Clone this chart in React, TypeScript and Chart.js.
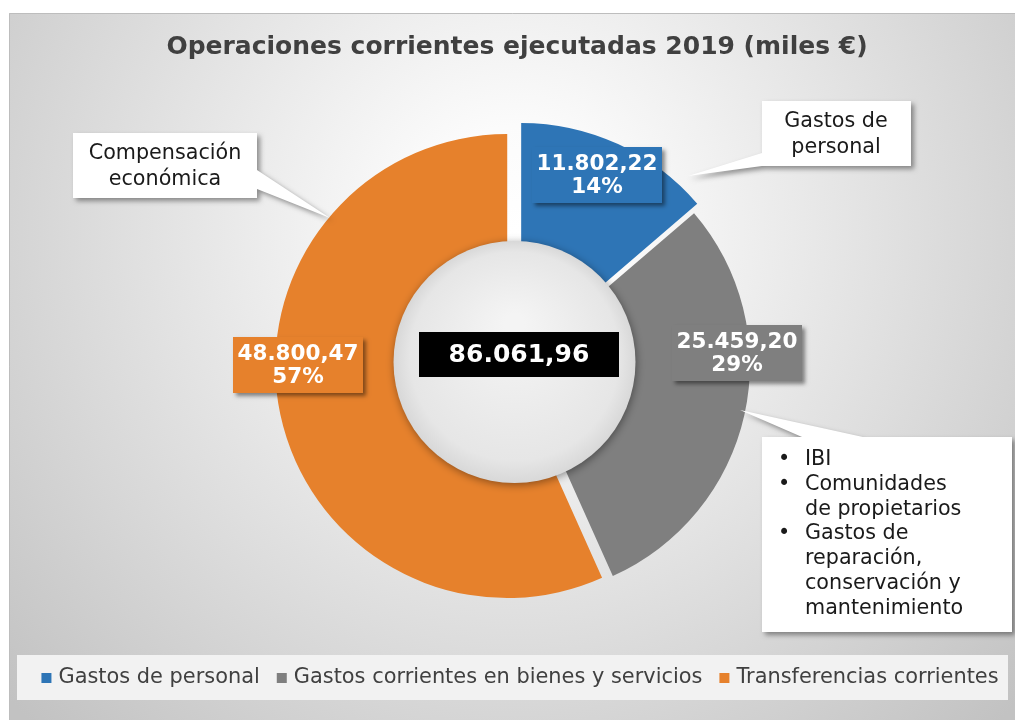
import React, { useEffect, useRef } from 'react';
import { Chart, registerables } from 'chart.js';

Chart.register(...registerables);

// ---- data ----
const categories = ['Gastos de personal', 'Gastos corrientes en bienes y servicios', 'Transferencias corrientes'];
const values = [11802.22, 25459.2, 48800.47];
const percentLabels = ['14%', '29%', '57%'];
const totalLabel = '86.061,96';
const colors = ['#2E75B6', '#7F7F7F', '#E6812C'];
const titleText = 'Operaciones corrientes ejecutadas 2019 (miles €)';
const calloutPersonal = ['Gastos de', 'personal'];
const calloutTransfer = ['Compensación', 'económica'];
const calloutBienes = [['IBI'], ['Comunidades', 'de propietarios'], ['Gastos de', 'reparación,', 'conservación y', 'mantenimiento']];

// ---- layout (not data) ----
const explode = [10, 1, 10];
const labelOffsets = [
  [80, -189],
  [220, -11],
  [-219, 1],
];
const FONT = '"DejaVu Sans", Verdana, sans-serif';

function fmt(v: number): string {
  const [i, d] = v.toFixed(2).split('.');
  return i.replace(/\B(?=(\d{3})+(?!\d))/g, '.') + ',' + d;
}

function shadowOn(ctx: CanvasRenderingContext2D, a = 0.4, blur = 5, ox = 3, oy = 3) {
  ctx.shadowColor = `rgba(0,0,0,${a})`;
  ctx.shadowBlur = blur;
  ctx.shadowOffsetX = ox;
  ctx.shadowOffsetY = oy;
}
function shadowOff(ctx: CanvasRenderingContext2D) {
  ctx.shadowColor = 'rgba(0,0,0,0)';
  ctx.shadowBlur = 0;
  ctx.shadowOffsetX = 0;
  ctx.shadowOffsetY = 0;
}

function poly(ctx: CanvasRenderingContext2D, pts: number[][]) {
  ctx.beginPath();
  pts.forEach((p, i) => (i === 0 ? ctx.moveTo(p[0], p[1]) : ctx.lineTo(p[0], p[1])));
  ctx.closePath();
}

const bgPlugin = {
  id: 'bg',
  beforeDraw(chart: any) {
    const ctx: CanvasRenderingContext2D = chart.ctx;
    const W = chart.width;
    const H = chart.height;
    ctx.save();
    ctx.fillStyle = '#ffffff';
    ctx.fillRect(0, 0, W, H);
    const g = ctx.createRadialGradient(515, 230, 0, 515, 230, 690);
    g.addColorStop(0, '#ffffff');
    g.addColorStop(0.15, '#fbfbfb');
    g.addColorStop(1, '#c2c2c2');
    ctx.fillStyle = g;
    ctx.fillRect(9, 13, W - 9, H - 13);
    ctx.strokeStyle = '#bdbdbd';
    ctx.lineWidth = 1;
    ctx.beginPath();
    ctx.moveTo(9.5, H);
    ctx.lineTo(9.5, 13.5);
    ctx.lineTo(W, 13.5);
    ctx.stroke();
    ctx.restore();
  },
};

const explodePlugin = {
  id: 'explode',
  afterDatasetsUpdate(chart: any) {
    const meta = chart.getDatasetMeta(0);
    meta.data.forEach((arc: any, i: number) => {
      const mid = (arc.startAngle + arc.endAngle) / 2;
      arc.x += Math.cos(mid) * explode[i];
      arc.y += Math.sin(mid) * explode[i];
    });
  },
};

const overlayPlugin = {
  id: 'overlay',
  afterDatasetsDraw(chart: any) {
    const ctx: CanvasRenderingContext2D = chart.ctx;
    const ca = chart.chartArea;
    const cx = (ca.left + ca.right) / 2;
    const cy = (ca.top + ca.bottom) / 2;
    ctx.save();

    // centre disc
    const holeR = 121;
    shadowOn(ctx, 0.4, 9, 1, 2);
    const hg = ctx.createRadialGradient(cx - 3, cy - 40, 10, cx - 2, cy - 2, holeR);
    hg.addColorStop(0, '#f4f4f4');
    hg.addColorStop(0.85, '#e6e6e6');
    hg.addColorStop(1, '#d8d8d8');
    ctx.fillStyle = hg;
    ctx.beginPath();
    ctx.arc(cx - 2.5, cy - 2, holeR, 0, Math.PI * 2);
    ctx.fill();
    shadowOff(ctx);

    // total label
    ctx.fillStyle = '#000000';
    ctx.fillRect(cx - 98, cy - 32, 200, 45);
    ctx.fillStyle = '#ffffff';
    ctx.font = `bold 25px ${FONT}`;
    ctx.textAlign = 'center';
    ctx.textBaseline = 'middle';
    ctx.fillText(totalLabel, cx + 2, cy - 9);

    // data labels
    const ds = chart.data.datasets[0];
    ds.data.forEach((v: number, i: number) => {
      const lx = cx + labelOffsets[i][0];
      const ly = cy + labelOffsets[i][1];
      shadowOn(ctx, 0.45, 4, 3, 3);
      ctx.fillStyle = ds.backgroundColor[i];
      ctx.fillRect(lx - 65, ly - 28, 130, 56);
      shadowOff(ctx);
      ctx.fillStyle = '#ffffff';
      ctx.font = `bold 21.5px ${FONT}`;
      ctx.fillText(fmt(v), lx, ly - 11);
      ctx.fillText(percentLabels[i], lx, ly + 12);
    });

    // callouts
    ctx.fillStyle = '#ffffff';
    shadowOn(ctx, 0.4, 5, 3, 3);
    poly(ctx, [[762, 101], [911, 101], [911, 166], [762, 166], [688, 176], [762, 153]]);
    ctx.fill();
    poly(ctx, [[73, 133], [257, 133], [257, 170], [330, 218], [257, 189], [257, 198], [73, 198]]);
    ctx.fill();
    poly(ctx, [[762, 437], [802, 437], [740, 410], [863, 437], [1012, 437], [1012, 632], [762, 632]]);
    ctx.fill();
    shadowOff(ctx);

    ctx.fillStyle = '#1a1a1a';
    ctx.font = `20.7px ${FONT}`;
    ctx.textAlign = 'center';
    calloutPersonal.forEach((t, i) => ctx.fillText(t, 836, 122 + i * 26));
    calloutTransfer.forEach((t, i) => ctx.fillText(t, 165, 154 + i * 26));
    ctx.textAlign = 'left';
    let y = 460;
    calloutBienes.forEach((group) => {
      group.forEach((t, j) => {
        if (j === 0) ctx.fillText('•', 778, y);
        ctx.fillText(t, 805, y);
        y += 24.7;
      });
    });

    // title
    ctx.fillStyle = '#404040';
    ctx.font = `bold 25px ${FONT}`;
    ctx.textAlign = 'center';
    ctx.fillText(titleText, 517, 47);

    // legend
    ctx.fillStyle = '#f2f2f2';
    ctx.fillRect(17, 655, 991, 45);
    ctx.font = `20.9px ${FONT}`;
    ctx.textAlign = 'left';
    const labels: string[] = chart.data.labels;
    const box = 10, gap = 7, sep = 17;
    const widths = labels.map((l) => box + gap + ctx.measureText(l).width);
    const total = widths.reduce((a, b) => a + b, 0) + sep * (labels.length - 1);
    let x = 520 - total / 2;
    labels.forEach((l, i) => {
      ctx.fillStyle = ds.backgroundColor[i];
      ctx.fillRect(x, 673, box, box);
      ctx.fillStyle = '#404040';
      ctx.fillText(l, x + box + gap, 678);
      x += widths[i] + sep;
    });

    ctx.restore();
  },
};

export default function App() {
  const ref = useRef<HTMLCanvasElement>(null);
  useEffect(() => {
    const chart = new Chart(ref.current as HTMLCanvasElement, {
      type: 'doughnut',
      data: {
        labels: categories,
        datasets: [
          {
            data: values,
            backgroundColor: colors,
            borderWidth: 0,
            radius: 232,
            cutout: '40%',
          } as any,
        ],
      },
      options: {
        responsive: false,
        animation: false,
        radius: 232,
        cutout: '40%',
        layout: { padding: { left: 19, top: 8, right: 0, bottom: 0 } },
        plugins: {
          legend: { display: false },
          title: { display: false },
          tooltip: { enabled: false },
        },
      } as any,
      plugins: [bgPlugin, explodePlugin, overlayPlugin],
    });
    return () => chart.destroy();
  }, []);
  return (
    <div style={{ position: 'fixed', left: 0, top: 0, width: 1015, height: 720 }}>
      <canvas ref={ref} width={1015} height={720} style={{ display: 'block' }} />
    </div>
  );
}
